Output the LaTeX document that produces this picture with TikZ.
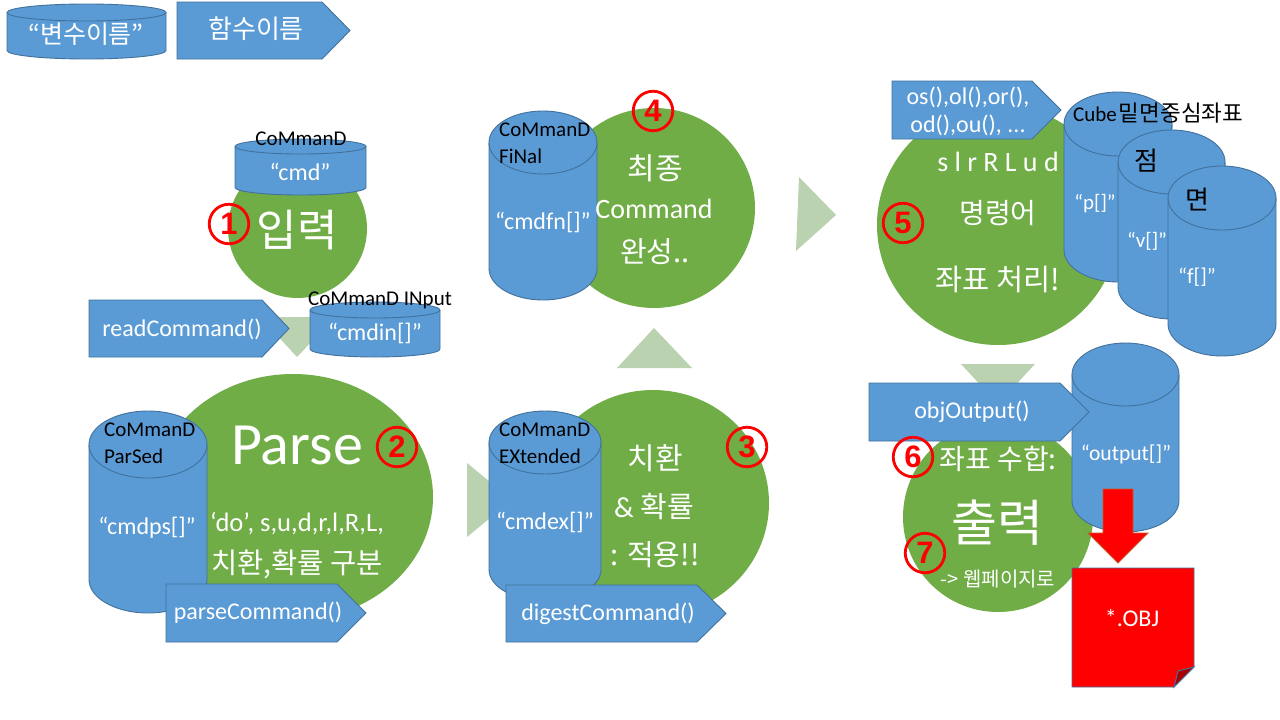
\documentclass[tikz,border=0pt]{standalone}
\usepackage{fontspec}
\setmainfont{Carlito}
\newfontfamily\kr{Noto Sans CJK KR}
\newfontfamily\nm{Liberation Sans}
\usetikzlibrary{shapes.geometric,calc}
\definecolor{gr}{HTML}{70AD47}
\definecolor{bl}{HTML}{5B9BD5}
\definecolor{bd}{HTML}{41719C}
\definecolor{pg}{HTML}{BBD2B1}
\definecolor{rd}{HTML}{FF0000}
\definecolor{rdb}{HTML}{C55A2A}
\definecolor{dk}{HTML}{A80000}
\newcommand{\fs}[1]{\fontsize{#1}{#1}\selectfont}
\newcommand{\cyl}[6]{% name,left,top,width,height,ry
 \fill[bl] (#2,-#3-#6) arc[start angle=180,end angle=0,x radius=#4/2,y radius=#6] -- (#2+#4,-#3-#5+#6) arc[start angle=0,end angle=-180,x radius=#4/2,y radius=#6] -- cycle;
 \draw[cylline] (#2,-#3-#6) arc[start angle=180,end angle=-180,x radius=#4/2,y radius=#6];
 \draw[cylline] (#2,-#3-#6) -- (#2,-#3-#5+#6) arc[start angle=180,end angle=360,x radius=#4/2,y radius=#6] -- (#2+#4,-#3-#6);
 \coordinate (#1) at (#2+#4/2,-#3-#5/2);
}
\newcommand{\pent}[6]{% name,left,top,right,bottom,shoulder
 \draw[cylline,fill=bl] (#2,-#3) -- (#6,-#3) -- (#4,-#3/2-#5/2) -- (#6,-#5) -- (#2,-#5) -- cycle;
 \coordinate (#1) at (#2/2+#4/2,-#3/2-#5/2);
}
\tikzset{
 cylline/.style={draw=bd,line width=.9pt},
 pale/.style={fill=pg},
 blob/.style={fill=gr},
 wt/.style={text=white,inner sep=0pt,align=center},
 bk/.style={text=black,inner sep=0pt,align=left},
 num/.style={circle,draw=rd,line width=2.8pt,minimum size=39.5pt,inner sep=0pt,text=rd,font=\fs{31}\nm\bfseries}}
\begin{document}
\begin{tikzpicture}[x=1pt,y=1pt]
\useasboundingbox (0,0) rectangle (1280,-720);
\fill[white] (0,0) rectangle (1280,-720);
% legend
\cyl{legc}{7}{4}{159}{55}{8.5}
\pent{legp}{177}{2}{350}{59}{322}
\node[wt,font=\fs{25}\kr] (legct) at (86,-34) {“변수이름”};
\node[wt,font=\fs{26}\kr] (legpt) at (256,-29) {함수이름};
% step 1
\fill[blob] (297.5,-228.5) circle (69.5);
\fill[pale] (260,-317) -- (335,-317) -- (297,-357) -- cycle;
\cyl{c1}{235}{139}{131}{56}{7.5}
\pent{p1}{89}{300}{289}{357}{262}
\cyl{c1b}{310}{302}{130}{55}{8}
\node[wt,font=\fs{44}\kr] (t1) at (297,-230) {입력};
\node[bk,font=\fs{21}] (c1l) at (301,-139) {CoMmanD};
\node[wt,font=\fs{24}] (c1t) at (300,-172) {“cmd”};
\node[wt,font=\fs{24}] (p1t) at (182,-329) {readCommand()};
\node[bk,font=\fs{21}] (c1bl) at (380,-300) {CoMmanD INput};
\node[wt,font=\fs{24}] (c1bt) at (375,-333) {“cmdin[]”};
% step 2
\fill[blob] (293,-497) circle (140 and 123);
\cyl{c2}{89}{411}{118}{202}{33.5}
\pent{p2}{166}{584}{366}{642}{337}
\node[wt,font=\fs{60}] (t2) at (297,-445) {Parse};
\node[wt,font=\fs{26.6}] (t2a) at (297,-524) {‘do’, s,u,d,r,l,R,L,};
\node[wt,font=\fs{28.5}\kr] (t2b) at (297,-564) {치환,확률 구분};
\node[bk,font=\fs{21},anchor=west] (c2l) at (104,-430) {CoMmanD};
\node[bk,font=\fs{21},anchor=west] (c2m) at (104,-456) {ParSed};
\node[wt,font=\fs{24}] (c2t) at (147,-528) {“cmdps[]”};
\node[wt,font=\fs{24}] (p2t) at (258,-613) {parseCommand()};
% step 3
\fill[pale] (467,-463) -- (512,-500) -- (467,-537) -- cycle;
\fill[blob] (653,-503) circle (116 and 113);
\fill[pale] (617,-368) -- (692,-368) -- (654,-328) -- cycle;
\cyl{c3}{489}{411}{112}{190}{31.5}
\pent{p3}{506}{585}{726}{642}{697}
\node[wt,font=\fs{30}\kr] (t3a) at (655,-458) {치환};
\node[wt,font=\fs{29}\kr] (t3b) at (654,-507) {\fontspec{Carlito}\&~\kr 확률};
\node[wt,font=\fs{29}\kr] (t3c) at (655,-555) {: 적용!!};
\node[bk,font=\fs{21},anchor=west] (c3l) at (499,-430) {CoMmanD};
\node[bk,font=\fs{21},anchor=west] (c3m) at (499,-456) {EXtended};
\node[wt,font=\fs{24}] (c3t) at (545,-522) {“cmdex[]”};
\node[wt,font=\fs{24}] (p3t) at (608,-614) {digestCommand()};
% step 4
\fill[blob] (654,-208) circle (101 and 100);
\cyl{c4}{489}{111}{108}{189}{31.5}
\fill[pale] (799,-177) -- (836,-215) -- (796,-251) -- cycle;
\node[bk,font=\fs{21},anchor=west] (c4l) at (499,-130) {CoMmanD};
\node[bk,font=\fs{21},anchor=west] (c4m) at (499,-156) {FiNal};
\node[wt,font=\fs{24}] (c4t) at (543,-222) {“cmdfn[]”};
\node[wt,font=\fs{30}\kr] (t4a) at (655,-168) {최종};
\node[wt,font=\fs{28}] (t4b) at (654,-209) {Command};
\node[wt,font=\fs{29}\kr] (t4c) at (655,-252) {완성..};
% step 5
\fill[blob] (998,-225) circle (121 and 120);
\pent{p5}{892}{81}{1061}{139}{1032}
\cyl{c5p}{1064}{92}{108}{190}{32}
\cyl{c5v}{1118}{130}{107}{189}{32}
\cyl{c5f}{1168}{166}{108}{190}{32}
\node[wt,font=\fs{24}] (p5a) at (968,-97) {os(),ol(),or(),};
\node[wt,font=\fs{24}] (p5b) at (968,-125) {od(),ou(), ...};
\node[wt,font=\fs{28}] (t5a) at (998,-162) {s l r R L u d};
\node[wt,font=\fs{28}\kr] (t5b) at (998,-213) {명령어};
\node[wt,font=\fs{29.5}\kr] (t5c) at (998,-279) {좌표 처리!};
\node[bk,font=\fs{21},anchor=west] (c5pl) at (1073,-113) {Cube\kern2pt{\fs{22.5}\kr 밑면중심좌표}};
\node[bk,font=\fs{26}\kr] (c5vl) at (1146,-161) {점};
\node[bk,font=\fs{26}\kr] (c5fl) at (1197,-200) {면};
\node[wt,font=\fs{21}] (c5pt) at (1095,-204) {“p[]”};
\node[wt,font=\fs{21}] (c5vt) at (1147,-241) {“v[]”};
\node[wt,font=\fs{21.5}] (c5ft) at (1197,-277) {“f[]”};
% step 6/7
\fill[pale] (961,-364) -- (1035,-364) -- (998,-404) -- cycle;
\fill[blob] (998,-517) circle (95);
\cyl{c6}{1072}{343}{107}{189}{31.5}
\pent{p6}{869}{383}{1089}{441}{1060}
\draw[draw=rdb,line width=.8pt,fill=rd] (1103,-489) -- (1133,-489) -- (1133,-533) -- (1148,-533) -- (1118,-563) -- (1088,-533) -- (1103,-533) -- cycle;
\draw[cylline,fill=rd] (1072,-568) -- (1194,-568) -- (1194,-667) -- (1174,-687) -- (1072,-687) -- cycle;
\draw[cylline,fill=dk] (1174,-687) -- (1178,-671) -- (1194,-667) -- cycle;
\node[wt,font=\fs{24}] (p6t) at (972,-412) {objOutput()};
\node[wt,font=\fs{21.6}] (c6t) at (1126,-454) {“output[]”};
\node[wt,font=\fs{28}\kr] (t6a) at (998,-459) {좌표 수합:};
\node[wt,font=\fs{50}\kr] (t6b) at (997,-523) {출력};
\node[wt,font=\fs{20}\kr] (t6c) at (998,-579) {-> 웹페이지로};
\node[wt,font=\fs{24}] (obj) at (1132,-618) {*.OBJ};
% numbers
\node[num] (n1) at (229,-224) {1};
\node[num] (n2) at (397,-447) {2};
\node[num] (n3) at (747,-447) {3};
\node[num] (n4) at (653,-111) {4};
\node[num] (n5) at (903,-223) {5};
\node[num] (n6) at (913,-457) {6};
\node[num] (n7) at (925,-553) {7};
\end{tikzpicture}
\end{document}
